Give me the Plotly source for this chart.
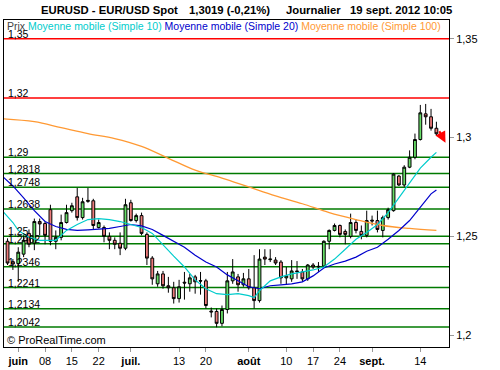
import pandas as pd
import plotly.graph_objects as go

# ---------------- data ----------------
# trading days (category axis); candles start on 2012-05-30
days = pd.bdate_range("2012-05-29", "2012-09-19").strftime("%Y-%m-%d").tolist()
candle_days = days[1:]

opens = [1.2475, 1.2372, 1.2362, 1.2410, 1.2515, 1.2465, 1.2575, 1.2565, 1.2635, 1.2475,
         1.2495, 1.2570, 1.2630, 1.2700, 1.2595, 1.2682, 1.2680, 1.2545, 1.2545, 1.2500,
         1.2480, 1.2465, 1.2440, 1.2670, 1.2580, 1.2605, 1.2510, 1.2390, 1.2260, 1.2310,
         1.2250, 1.2240, 1.2185, 1.2268, 1.2260, 1.2295, 1.2276, 1.2275, 1.2122, 1.2120,
         1.2060, 1.2130, 1.2275, 1.2295, 1.2255, 1.2285, 1.2240, 1.2175, 1.2395, 1.2382,
         1.2380, 1.2370, 1.2290, 1.2285, 1.2325, 1.2320, 1.2285, 1.2355, 1.2345, 1.2350,
         1.2475, 1.2530, 1.2555, 1.2525, 1.2500, 1.2570, 1.2525, 1.2505, 1.2582, 1.2580,
         1.2530, 1.2595, 1.2630, 1.2805, 1.2760, 1.2850, 1.2900, 1.2990, 1.3120, 1.3105,
         1.3047]
highs = [1.2490, 1.2385, 1.2445, 1.2505, 1.2535, 1.2590, 1.2590, 1.2575, 1.2660, 1.2530,
         1.2610, 1.2660, 1.2670, 1.2745, 1.2695, 1.2745, 1.2690, 1.2585, 1.2555, 1.2520,
         1.2495, 1.2520, 1.2690, 1.2685, 1.2615, 1.2620, 1.2520, 1.2400, 1.2325, 1.2325,
         1.2295, 1.2270, 1.2280, 1.2320, 1.2310, 1.2305, 1.2320, 1.2285, 1.2140, 1.2135,
         1.2150, 1.2320, 1.2385, 1.2310, 1.2315, 1.2335, 1.2405, 1.2435, 1.2435, 1.2435,
         1.2395, 1.2380, 1.2345, 1.2380, 1.2375, 1.2335, 1.2360, 1.2365, 1.2370, 1.2480,
         1.2535, 1.2565, 1.2560, 1.2535, 1.2615, 1.2585, 1.2555, 1.2630, 1.2605, 1.2630,
         1.2605, 1.2645, 1.2820, 1.2810, 1.2860, 1.2935, 1.3020, 1.3165, 1.3170, 1.3145,
         1.3080]
lows = [1.2355, 1.2330, 1.2270, 1.2395, 1.2445, 1.2430, 1.2505, 1.2460, 1.2455, 1.2435,
        1.2480, 1.2565, 1.2620, 1.2580, 1.2585, 1.2670, 1.2535, 1.2540, 1.2470, 1.2435,
        1.2435, 1.2405, 1.2430, 1.2575, 1.2570, 1.2505, 1.2355, 1.2255, 1.2245, 1.2235,
        1.2215, 1.2160, 1.2165, 1.2180, 1.2220, 1.2210, 1.2205, 1.2135, 1.2090, 1.2040,
        1.2045, 1.2110, 1.2260, 1.2220, 1.2245, 1.2230, 1.2135, 1.2165, 1.2355, 1.2370,
        1.2355, 1.2260, 1.2255, 1.2270, 1.2285, 1.2270, 1.2275, 1.2335, 1.2320, 1.2345,
        1.2435, 1.2525, 1.2495, 1.2460, 1.2490, 1.2515, 1.2485, 1.2495, 1.2555, 1.2520,
        1.2495, 1.2585, 1.2625, 1.2755, 1.2750, 1.2845, 1.2890, 1.2985, 1.3065, 1.3035,
        1.3010]
closes = [1.2365, 1.2360, 1.2420, 1.2480, 1.2460, 1.2575, 1.2563, 1.2505, 1.2475, 1.2495,
          1.2570, 1.2620, 1.2655, 1.2595, 1.2675, 1.2678, 1.2555, 1.2570, 1.2500, 1.2480,
          1.2460, 1.2440, 1.2660, 1.2580, 1.2605, 1.2515, 1.2390, 1.2285, 1.2310, 1.2250,
          1.2240, 1.2185, 1.2245, 1.2264, 1.2290, 1.2270, 1.2274, 1.2150, 1.2118, 1.2060,
          1.2130, 1.2275, 1.2320, 1.2255, 1.2285, 1.2240, 1.2175, 1.2385, 1.2385, 1.2385,
          1.2365, 1.2290, 1.2300, 1.2325, 1.2322, 1.2285, 1.2355, 1.2345, 1.2348, 1.2475,
          1.2530, 1.2555, 1.2510, 1.2510, 1.2570, 1.2530, 1.2505, 1.2580, 1.2578, 1.2535,
          1.2595, 1.2635, 1.2815, 1.2760, 1.2850, 1.2900, 1.2990, 1.3125, 1.3105, 1.3047,
          1.3019]

# moving averages (index into `days`, value)
ma10_k = [0, 2, 3, 5, 7, 9, 10, 11, 12, 14, 16, 18, 20, 22, 24, 26, 28, 30, 32, 34, 36, 38, 40,
          42, 44, 46, 47, 48, 50, 52, 54, 56, 58, 60, 62, 64, 66, 68, 70, 72, 74, 76, 78, 80, 81]
ma10_v = [1.2630, 1.2570, 1.2530, 1.2495, 1.2480, 1.2480, 1.2480, 1.2505, 1.2530, 1.2560,
          1.2585, 1.2590, 1.2585, 1.2575, 1.2560, 1.2545, 1.2515, 1.2455, 1.2400, 1.2345,
          1.2280, 1.2235, 1.2210, 1.2205, 1.2210, 1.2200, 1.2190, 1.2225, 1.2275, 1.2295,
          1.2310, 1.2320, 1.2330, 1.2345, 1.2385, 1.2435, 1.2485, 1.2520, 1.2560, 1.2620,
          1.2695, 1.2765, 1.2845, 1.2900, 1.2925]
ma20_k = [0, 2, 4, 6, 8, 10, 12, 14, 16, 18, 20, 22, 24, 26, 28, 30, 32, 34, 36, 38, 40, 42,
          44, 46, 48, 50, 52, 54, 56, 58, 60, 62, 64, 66, 68, 70, 72, 74, 76, 78, 80, 81]
ma20_v = [1.2805, 1.2755, 1.2695, 1.2630, 1.2575, 1.2550, 1.2535, 1.2530, 1.2533, 1.2535,
          1.2540, 1.2550, 1.2560, 1.2553, 1.2535, 1.2505, 1.2475, 1.2445, 1.2405, 1.2370,
          1.2345, 1.2305, 1.2275, 1.2245, 1.2235, 1.2250, 1.2255, 1.2260, 1.2270, 1.2300,
          1.2340, 1.2360, 1.2375, 1.2395, 1.2425, 1.2445, 1.2485, 1.2530, 1.2580, 1.2645,
          1.2715, 1.2735]
ma100_k = [0, 6, 11, 16, 21, 26, 31, 36, 41, 46, 51, 56, 61, 66, 71, 76, 81]
ma100_v = [1.3095, 1.3080, 1.3050, 1.3020, 1.2995, 1.2955, 1.2895, 1.2835, 1.2795, 1.2750,
           1.2705, 1.2665, 1.2620, 1.2585, 1.2555, 1.2540, 1.2530]

# horizontal levels
levels = [1.35, 1.32, 1.29, 1.2818, 1.2748, 1.2638, 1.25, 1.2462, 1.2346, 1.2241, 1.2134, 1.2042]
level_labels = ["1,35", "1,32", "1,29", "1,2818", "1,2748", "1,2638", "1,25", "1,2462",
                "1,2346", "1,2241", "1,2134", "1,2042"]
level_colors = ["#FF0000", "#FF0000"] + ["#007A00"] * 10

# axis ticks
x_tick_dates = ["2012-06-01", "2012-06-08", "2012-06-15", "2012-06-22", "2012-07-02",
                "2012-07-13", "2012-07-20", "2012-08-01", "2012-08-10", "2012-08-17",
                "2012-08-24", "2012-09-03", "2012-09-14"]
x_tick_text = ["<b>juin</b>", "08", "15", "22", "<b>juil.</b>", "13", "20", "<b>août</b>",
               "10", "17", "24", "<b>sept.</b>", "14"]
y_tick_vals = [1.2, 1.25, 1.3, 1.35]
y_tick_text = ["1,2", "1,25", "1,3", "1,35"]

FONT = "Liberation Sans, Arial, sans-serif"
C_MA10 = "#00CCCC"
C_MA20 = "#0000CC"
C_MA100 = "#FF9933"

# ---------------- figure ----------------
W, H = 500, 370
ML, MR, MT, MB = 3, 51, 20, 18
PW, PH = W - ML - MR, H - MT - MB


def px(xp):
    return (xp - ML) / PW


def py(yp):
    return (H - MB - yp) / PH


fig = go.Figure()

fig.add_trace(go.Candlestick(
    x=candle_days, open=opens, high=highs, low=lows, close=closes,
    increasing=dict(line=dict(color="black", width=1), fillcolor="#66DD66"),
    decreasing=dict(line=dict(color="black", width=1), fillcolor="#EE7B7B"),
    whiskerwidth=0, showlegend=False, hoverinfo="skip",
))

fig.add_trace(go.Scatter(x=[days[k] for k in ma100_k], y=ma100_v, mode="lines",
                         line=dict(color=C_MA100, width=1.3, shape="spline"),
                         showlegend=False, hoverinfo="skip"))
fig.add_trace(go.Scatter(x=[days[k] for k in ma20_k], y=ma20_v, mode="lines",
                         line=dict(color=C_MA20, width=1.2),
                         showlegend=False, hoverinfo="skip"))
fig.add_trace(go.Scatter(x=[days[k] for k in ma10_k], y=ma10_v, mode="lines",
                         line=dict(color=C_MA10, width=1.2),
                         showlegend=False, hoverinfo="skip"))

shapes = []
annotations = []
for lv, lab, col in zip(levels, level_labels, level_colors):
    shapes.append(dict(type="line", xref="paper", x0=0, x1=1, yref="y", y0=lv, y1=lv,
                       line=dict(color=col, width=1.5), layer="below"))
    annotations.append(dict(xref="paper", x=0, xshift=2, xanchor="left",
                            yref="y", y=lv, yanchor="bottom", yshift=-3,
                            text=lab, showarrow=False,
                            font=dict(family=FONT, size=10.5, color="black")))

# legend line at top of plot
legend_txt = ("<span style='color:#444444'>Prix</span> "
              f"<span style='color:{C_MA10}'>Moyenne mobile (Simple 10)</span> "
              f"<span style='color:{C_MA20}'>Moyenne mobile (Simple 20)</span> "
              f"<span style='color:{C_MA100}'>Moyenne mobile (Simple 100)</span>")
annotations.append(dict(xref="paper", yref="paper", x=px(4), y=py(26.5), xanchor="left",
                        yanchor="middle", text=legend_txt, showarrow=False,
                        font=dict(family=FONT, size=10.5)))

# title pieces
for xp, t in [(38, "EURUSD - EUR/USD Spot"), (186, "1,3019 (-0,21%)"),
              (284, "Journalier"), (348, "19 sept. 2012 10:05")]:
    annotations.append(dict(xref="paper", yref="paper", x=px(xp), y=py(10), xanchor="left",
                            yanchor="middle", text=f"<b>{t}</b>", showarrow=False,
                            font=dict(family=FONT, size=11.3, color="black")))

# copyright
annotations.append(dict(xref="paper", yref="paper", x=px(4), y=py(345), xanchor="left",
                        yanchor="middle", text="© ProRealTime.com", showarrow=False,
                        font=dict(family=FONT, size=11, color="black")))

# red arrow after last candle (head just right of / below the last close)
annotations.append(dict(x=len(days) - 1 + 1.7, y=closes[-1] - 0.0045, xref="x", yref="y",
                        ax=-7, ay=-13, showarrow=True,
                        arrowhead=2, arrowsize=1, arrowwidth=2.2, arrowcolor="#FF0000",
                        text=""))

fig.update_layout(
    width=W, height=H,
    margin=dict(l=ML, r=MR, t=MT, b=MB, pad=0),
    paper_bgcolor="white", plot_bgcolor="white",
    font=dict(family=FONT, size=11, color="black"),
    shapes=shapes, annotations=annotations,
    boxgap=0.25,
    xaxis=dict(type="category", categoryorder="array", categoryarray=days,
               range=[0.34, 83.35], rangeslider=dict(visible=False),
               tickmode="array", tickvals=x_tick_dates, ticktext=x_tick_text,
               ticks="outside", ticklen=4, tickcolor="#999999", tickangle=0,
               showgrid=False, zeroline=False, showline=True, linecolor="black",
               linewidth=1, mirror=True, tickfont=dict(family=FONT, size=11)),
    yaxis=dict(side="right", range=[1.19402, 1.35947],
               tickmode="array", tickvals=y_tick_vals, ticktext=y_tick_text,
               ticks="outside", ticklen=4, tickcolor="#999999",
               showgrid=False, zeroline=False, showline=True, linecolor="black",
               linewidth=1, mirror=True, tickfont=dict(family=FONT, size=11)),
)

fig.write_html("out.html", config={"displayModeBar": False},
               post_script="document.body.style.margin='0';")
